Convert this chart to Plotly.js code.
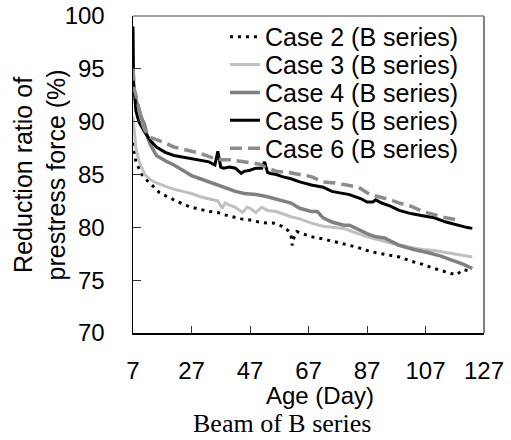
<!DOCTYPE html>
<html>
<head>
<meta charset="utf-8">
<script src="https://cdn.plot.ly/plotly-3.0.1.min.js"></script>
<style>html,body{margin:0;padding:0;background:#fff;}#chart{width:511px;height:440px;}</style>
</head>
<body>
<div id="chart"></div>
<script>
// Age (day) and reduction ratio of prestress force (%) for each case
const days2 = [7, 7.5, 8, 9, 10, 12, 14, 16, 18, 21, 24, 27, 30, 33, 36, 38, 41, 44, 47, 50, 53, 55, 58, 60, 61, 61.4, 62, 63, 65, 68, 72, 75, 79, 81, 85, 87, 90, 94, 98, 102, 106, 110, 114, 117.5, 120, 123];
const case2 = [88.0, 87.0, 86.2, 85.6, 85.0, 84.4, 83.8, 83.3, 83.0, 82.6, 82.2, 81.9, 81.7, 81.5, 81.4, 81.2, 81.0, 80.8, 80.7, 80.5, 80.4, 80.4, 80.1, 79.7, 79.3, 78.3, 79.0, 79.6, 79.4, 79.1, 78.9, 78.7, 78.5, 78.3, 78.0, 77.8, 77.6, 77.4, 77.2, 76.8, 76.5, 76.1, 75.8, 75.5, 76.0, 75.8];

const days3 = [7, 7.5, 8, 9, 10, 11, 13, 15, 18, 21, 24, 27, 30, 33, 36, 37.5, 38.5, 40, 42, 44.5, 46, 47, 49, 51, 53, 56, 58, 61, 64, 68, 72, 75, 79, 81, 84, 87, 90, 94, 98, 102, 106, 110, 114, 118, 123];
const case3 = [90.5, 88.5, 87.5, 86.3, 85.6, 85.0, 84.5, 84.2, 83.9, 83.6, 83.4, 83.2, 82.9, 82.7, 82.5, 81.8, 82.3, 82.1, 81.9, 81.4, 81.9, 81.8, 81.4, 81.9, 81.6, 81.5, 81.3, 81.0, 80.8, 80.4, 80.1, 80.0, 79.9, 79.7, 79.4, 79.1, 78.9, 78.6, 78.3, 78.1, 77.9, 77.8, 77.6, 77.4, 77.2];

const days4 = [7, 8, 9, 10, 11, 12, 13, 15, 18, 21, 24, 27, 30, 33, 36, 39, 42, 45, 49, 53, 57, 61, 64, 68, 70, 72, 75, 79, 81, 84, 87, 90, 93, 98, 103, 108, 112, 116, 120, 123];
const case4 = [93.0, 92.0, 91.3, 90.3, 89.7, 88.5, 87.8, 86.8, 86.3, 85.9, 85.4, 84.9, 84.6, 84.3, 84.0, 83.7, 83.4, 83.2, 83.1, 82.9, 82.6, 82.3, 81.8, 81.5, 81.5, 80.9, 80.5, 80.2, 80.2, 79.8, 79.4, 79.1, 79.0, 78.3, 77.9, 77.6, 77.3, 76.9, 76.5, 76.1];

const days5 = [7, 7.2, 8, 9, 11, 13, 15, 18, 21, 25, 27, 30, 33, 35, 36, 37, 38, 40, 42, 44, 45, 47, 49, 51, 52, 53, 54, 56, 58, 61, 64, 68, 72, 75, 79, 81, 85, 87, 89, 90, 92, 95, 98, 102, 106, 110, 114, 118, 121, 123];
const case5 = [99.0, 93.8, 91.0, 90.0, 89.0, 88.2, 87.6, 87.1, 86.8, 86.6, 86.5, 86.4, 86.2, 85.9, 87.2, 85.7, 85.6, 85.7, 85.6, 85.1, 85.3, 85.4, 85.6, 85.6, 86.2, 85.2, 85.1, 85.0, 84.8, 84.6, 84.3, 84.0, 83.8, 83.4, 83.2, 83.1, 82.7, 82.4, 82.4, 82.6, 82.3, 82.0, 81.6, 81.3, 81.1, 80.9, 80.5, 80.2, 80.0, 79.9];

const days6 = [7, 7.5, 8, 9, 10, 11, 13, 15, 18, 21, 25, 30, 34, 37, 40, 45, 50, 53, 56, 60, 64, 68, 72, 76, 80, 84, 88, 91, 95, 98, 102, 106, 110, 114, 118];
const case6 = [95.0, 93.0, 92.5, 91.2, 90.0, 89.2, 88.5, 88.3, 88.0, 87.6, 87.3, 87.0, 86.6, 86.4, 86.4, 86.2, 86.0, 85.6, 85.3, 85.2, 85.0, 84.8, 84.3, 84.2, 84.0, 83.8, 83.1, 82.9, 82.6, 82.3, 82.0, 81.5, 81.2, 80.9, 80.7];

const names = ['Case 2 (B series)', 'Case 3 (B series)', 'Case 4 (B series)', 'Case 5 (B series)', 'Case 6 (B series)'];
const xTicks = [7, 27, 47, 67, 87, 107, 127];
const yTicks = [70, 75, 80, 85, 90, 95, 100];
const xTitle = 'Age (Day)';
const yTitle = 'Reduction ratio of<br>prestress force (%)';
const caption = 'Beam of B series';

const FONT = 'Liberation Sans, Arial, sans-serif';

const styles = [
  {color: '#000000', width: 3, dash: '3px,5px'},
  {color: '#c0c0c0', width: 3, dash: 'solid'},
  {color: '#808080', width: 3.5, dash: 'solid'},
  {color: '#000000', width: 3, dash: 'solid'},
  {color: '#8c8c8c', width: 3.5, dash: '12px,6px'}
];
const xs = [days2, days3, days4, days5, days6];
const ys = [case2, case3, case4, case5, case6];
const legendIds = ['legend', 'legend2', 'legend3', 'legend4', 'legend5'];
const legendY = [0.934, 0.846, 0.758, 0.670, 0.582];

const traces = xs.map((x, i) => ({
  type: 'scatter', mode: 'lines', x: x, y: ys[i], name: names[i],
  line: styles[i], legend: legendIds[i], showlegend: true
}));

const layout = {
  width: 511, height: 440,
  showlegend: true,
  margin: {l: 133, r: 27, t: 16, b: 107},
  paper_bgcolor: '#ffffff', plot_bgcolor: '#ffffff',
  font: {family: FONT, size: 24, color: '#000'},
  xaxis: {
    range: [7, 127], tickvals: xTicks, ticktext: xTicks.map(String),
    ticks: 'inside', ticklen: 7, tickwidth: 1, tickcolor: '#333',
    showgrid: false, zeroline: false, showline: true, linecolor: '#000', linewidth: 1.5,
    tickfont: {family: FONT, size: 24, color: '#000'}, ticklabelstandoff: 16
  },
  yaxis: {
    range: [70, 100], tickvals: yTicks, ticktext: yTicks.map(String),
    ticks: 'inside', ticklen: 8, tickwidth: 1, tickcolor: '#333',
    showgrid: false, zeroline: false, showline: true, linecolor: '#000', linewidth: 1.5,
    tickfont: {family: FONT, size: 24, color: '#000'}, ticklabelstandoff: 22
  },
  shapes: [
    {type: 'line', xref: 'paper', yref: 'paper', x0: 0, x1: 1, y0: 1, y1: 1, line: {color: '#808080', width: 1.5}},
    {type: 'line', xref: 'paper', yref: 'paper', x0: 1, x1: 1, y0: 0, y1: 1, line: {color: '#808080', width: 2}}
  ],
  annotations: [
    {xref: 'paper', yref: 'paper', x: 0.533, y: -0.1987, yanchor: 'middle', xanchor: 'center', showarrow: false,
     text: xTitle, font: {family: FONT, size: 24, color: '#000'}},
    {xref: 'paper', yref: 'paper', x: -0.265, y: 0.5, yanchor: 'middle', xanchor: 'center', showarrow: false,
     textangle: -90, text: yTitle, font: {family: FONT, size: 25, color: '#000'}},
    {xref: 'paper', yref: 'paper', x: 0.424, y: -0.287, yanchor: 'middle', xanchor: 'center', showarrow: false,
     text: caption, font: {family: 'Liberation Serif, Times New Roman, serif', size: 26, color: '#000'}}
  ]
};
legendIds.forEach((id, i) => {
  layout[id] = {
    x: 0.262, xanchor: 'left', y: legendY[i], yanchor: 'middle',
    bgcolor: 'rgba(0,0,0,0)', borderwidth: 0,
    font: {family: FONT, size: 25, color: '#000'}
  };
});

Plotly.newPlot('chart', traces, layout, {displayModeBar: false, staticPlot: true});
</script>
</body>
</html>
